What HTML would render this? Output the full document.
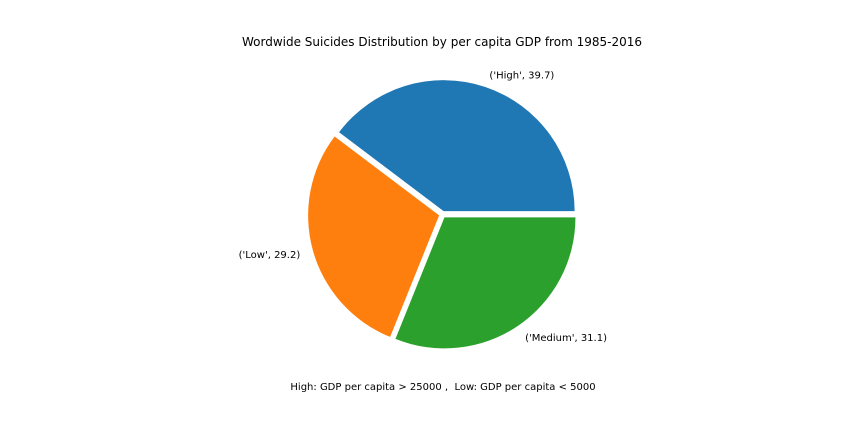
<!DOCTYPE html>
<html><head><meta charset="utf-8"><style>
body{margin:0;background:#fff;}
svg text{font-family:"DejaVu Sans","Liberation Sans",sans-serif;font-size:10px;fill:#000;white-space:pre;}
</style></head><body>
<svg id="chart" width="864" height="432" viewBox="0 0 864 432">
<text x="442" y="46" text-anchor="middle" style="font-size:12px">Wordwide Suicides Distribution by per capita GDP from 1985-2016</text>
<text x="443" y="390" text-anchor="middle" xml:space="preserve">High: GDP per capita &gt; 25000 ,  Low: GDP per capita &lt; 5000</text>
</svg>
<script>
const categories = ['High', 'Low', 'Medium'];
const values = [39.7, 29.2, 31.1];
const colors = ['#1f77b4', '#ff7f0e', '#2ca02c'];
const svg = document.getElementById('chart');
const NS = 'http://www.w3.org/2000/svg';
const cx = 442.5, cy = 214.5, r = 131, explode = 3.5;
const total = values.reduce((a, b) => a + b, 0);
let start = 0;
values.forEach((v, i) => {
  const sweep = v / total * 2 * Math.PI;
  const end = start + sweep, mid = start + sweep / 2;
  const ox = cx + explode * Math.cos(mid), oy = cy - explode * Math.sin(mid);
  const x1 = ox + r * Math.cos(start), y1 = oy - r * Math.sin(start);
  const x2 = ox + r * Math.cos(end), y2 = oy - r * Math.sin(end);
  const p = document.createElementNS(NS, 'path');
  p.setAttribute('d', `M${ox},${oy} L${x1},${y1} A${r},${r} 0 ${sweep > Math.PI ? 1 : 0} 0 ${x2},${y2} Z`);
  p.setAttribute('fill', colors[i]);
  
  
  svg.appendChild(p);
  const lx = ox + 1.1 * r * Math.cos(mid), ly = oy - 1.1 * r * Math.sin(mid);
  const t = document.createElementNS(NS, 'text');
  t.setAttribute('x', lx);
  t.setAttribute('y', ly + 4);
  t.setAttribute('text-anchor', Math.cos(mid) >= 0 ? 'start' : 'end');
  t.textContent = `('${categories[i]}', ${v})`;
  
  
  svg.appendChild(t);
  start = end;
});
</script>
</body></html>
